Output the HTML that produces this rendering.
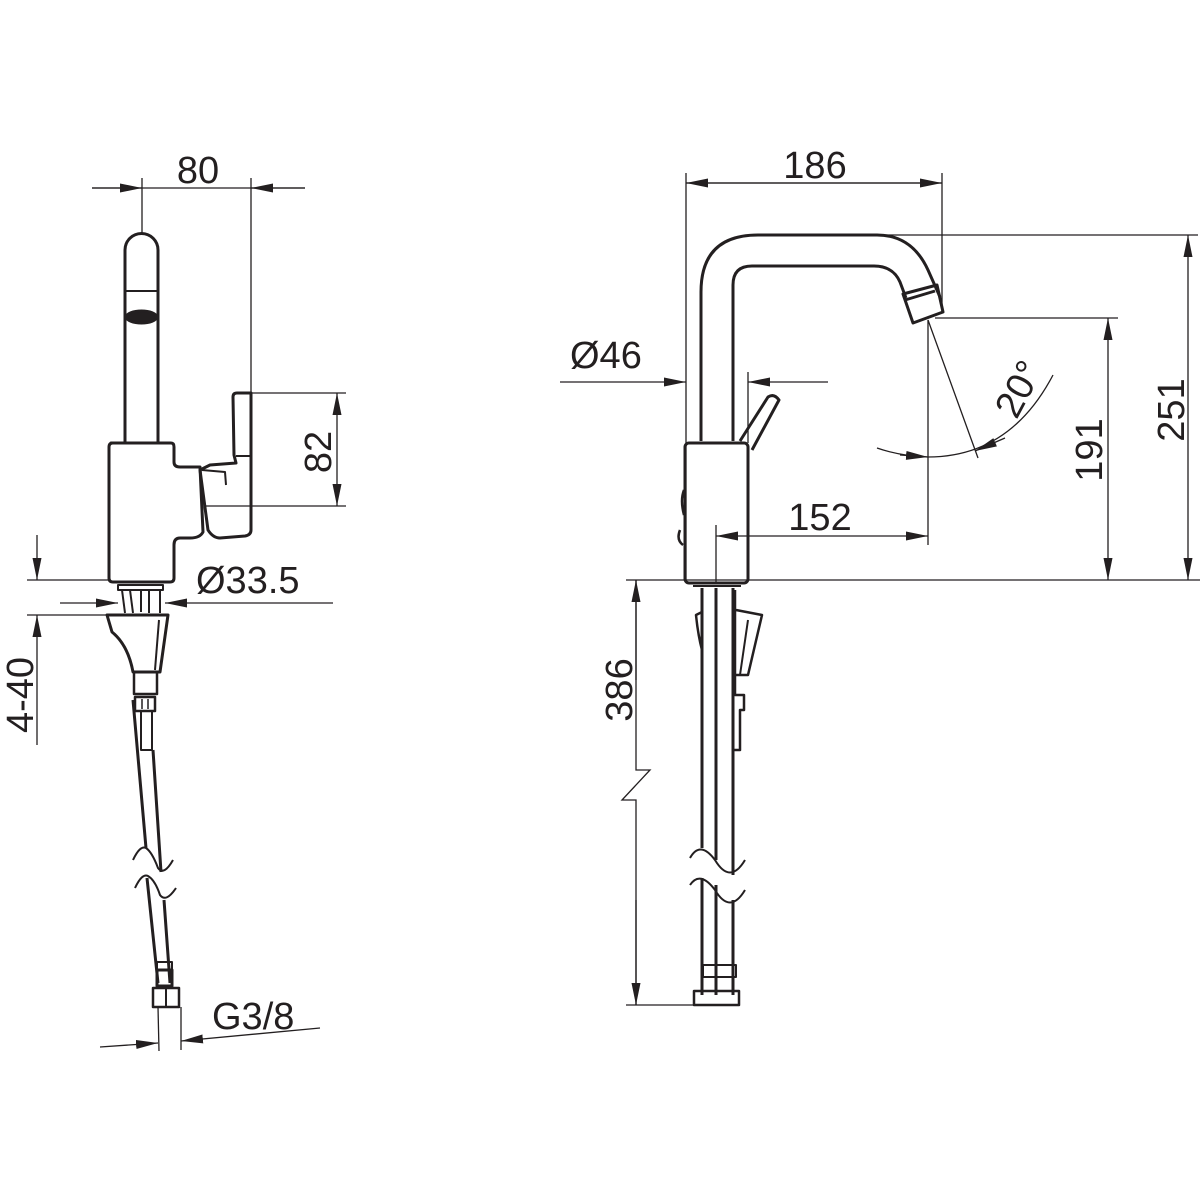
<!DOCTYPE html>
<html><head><style>body{margin:0;background:#fff}svg{display:block}text{font-family:"Liberation Sans",sans-serif;fill:#231f20}</style></head>
<body>
<svg width="1200" height="1200" viewBox="0 0 1200 1200" xmlns="http://www.w3.org/2000/svg">
<defs>
<marker id="a" viewBox="0 0 22 9" refX="22" refY="4.5" markerWidth="22" markerHeight="9" markerUnits="userSpaceOnUse" orient="auto"><path d="M0,0L22,4.5L0,9z" fill="#231f20"/></marker>
</defs>
<g stroke="#231f20" fill="none" stroke-width="1.3">
<!-- LEFT VIEW dims -->
<line x1="92" y1="188" x2="305" y2="188"/>
<line x1="92" y1="188" x2="142" y2="188" marker-end="url(#a)"/>
<line x1="305" y1="188" x2="251" y2="188" marker-end="url(#a)"/>
<line x1="142" y1="178" x2="142" y2="234"/>
<line x1="251" y1="178" x2="251" y2="395"/>
<line x1="252" y1="393" x2="346" y2="393"/>
<line x1="205" y1="506" x2="346" y2="506"/>
<line x1="337" y1="450" x2="337" y2="393" marker-end="url(#a)"/>
<line x1="337" y1="450" x2="337" y2="506" marker-end="url(#a)"/>
<line x1="60" y1="603" x2="118" y2="603" marker-end="url(#a)"/>
<line x1="333" y1="603" x2="165" y2="603" marker-end="url(#a)"/>
<line x1="27" y1="580" x2="110" y2="580"/>
<line x1="27" y1="615" x2="110" y2="615"/>
<line x1="37" y1="535" x2="37" y2="580" marker-end="url(#a)"/>
<line x1="37" y1="745" x2="37" y2="615" marker-end="url(#a)"/>
<line x1="100" y1="1047" x2="158" y2="1043" marker-end="url(#a)"/>
<line x1="320" y1="1028" x2="181" y2="1041" marker-end="url(#a)"/>
<line x1="158" y1="1007" x2="159" y2="1051"/><line x1="181" y1="1007" x2="181" y2="1050"/>
</g>
<g stroke="#231f20" fill="none" stroke-width="3" stroke-linejoin="round">
<!-- spout left -->
<path d="M125,442 V250 A16.5,16.5 0 0 1 158,250 V442"/>
<line x1="126" y1="291" x2="157" y2="291" stroke-width="2"/>
<ellipse cx="141.5" cy="317" rx="15" ry="6" fill="#231f20"/>
<!-- body -->
<path d="M111,443 H171 Q174,443 174,447 V462 Q174,467 180,467 H200 L203,532 Q200,538 190,538 H180 Q174,538 174,545 V578 Q174,582 170,582 H113 Q109,582 109,578 V447 Q109,443 113,443 Z"/>
<path d="M233,397 Q233,393 237,393 H251 V530 Q251,535 245,536 L220,538 Q213,538 208,530 L200,470 L210,465 L236,463 L234,455 Z"/>
<line x1="236" y1="456" x2="251" y2="456" stroke-width="2"/>
<path d="M202,470 L225,472 L226,485" stroke-width="2"/>
<!-- below body -->
<rect x="118" y="585" width="45" height="5" stroke-width="2"/>
<line x1="122" y1="590" x2="125" y2="613" stroke-width="2"/><line x1="130" y1="590" x2="133" y2="613" stroke-width="2"/>
<line x1="141" y1="590" x2="141" y2="612" stroke-width="2"/><line x1="149" y1="590" x2="149" y2="613" stroke-width="2"/><line x1="160" y1="590" x2="160" y2="613" stroke-width="2"/>
<path d="M107,615 H168 L160,672 H133 Q128,645 112,632 Z"/>
<line x1="159" y1="620" x2="155" y2="670" stroke-width="2"/>
<rect x="134" y="672" width="23" height="22" stroke-width="2.5"/>
<rect x="135" y="697" width="20" height="14" stroke-width="2.5"/>
<line x1="142" y1="699" x2="142" y2="709" stroke-width="1.5"/><line x1="148" y1="699" x2="148" y2="709" stroke-width="1.5"/>
<path d="M141,711 V750 H152 V711" stroke-width="2"/>
<!-- hose -->
<path d="M133,700 L146,848 M153,750 L161,872 M147,878 L158,983 M164,900 L170,983"/>
<path d="M133,860 Q140,845 146,848 Q152,852 158,868 Q164,876 173,860 M135,888 Q142,873 148,876 Q155,880 160,895 Q166,903 176,888" stroke-width="2"/>
<rect x="157" y="962" width="15" height="8" stroke-width="2"/>
<rect x="157" y="970" width="15" height="16" stroke-width="3"/>
<rect x="153" y="988" width="26" height="19" stroke-width="2.5"/>
<line x1="166" y1="988" x2="166" y2="1007" stroke-width="2"/>
</g>
<!-- RIGHT VIEW dims -->
<g stroke="#231f20" fill="none" stroke-width="1.3">
<line x1="686" y1="183" x2="942" y2="183"/>
<line x1="800" y1="183" x2="686" y2="183" marker-end="url(#a)"/>
<line x1="800" y1="183" x2="942" y2="183" marker-end="url(#a)"/>
<line x1="686" y1="173" x2="686" y2="580"/>
<line x1="942" y1="173" x2="942" y2="312"/>
<line x1="880" y1="235" x2="1198" y2="235"/>
<line x1="935" y1="318" x2="1118" y2="318"/>
<line x1="626" y1="580" x2="1200" y2="580"/>
<line x1="1188" y1="400" x2="1188" y2="235" marker-end="url(#a)"/>
<line x1="1188" y1="400" x2="1188" y2="580" marker-end="url(#a)"/>
<line x1="1108" y1="450" x2="1108" y2="318" marker-end="url(#a)"/>
<line x1="1108" y1="450" x2="1108" y2="580" marker-end="url(#a)"/>
<line x1="560" y1="382" x2="686" y2="382" marker-end="url(#a)"/>
<line x1="828" y1="382" x2="748" y2="382" marker-end="url(#a)"/>
<line x1="748" y1="372" x2="748" y2="443"/>
<line x1="716" y1="525" x2="716" y2="583"/>
<line x1="928" y1="320" x2="928" y2="545"/>
<line x1="820" y1="536" x2="716" y2="536" marker-end="url(#a)"/>
<line x1="820" y1="536" x2="928" y2="536" marker-end="url(#a)"/>
<line x1="928" y1="320" x2="978" y2="458"/>
<path d="M877,448 Q900,456 928,457 Q1010,457 1053,375"/>
<line x1="900" y1="455" x2="928" y2="457" marker-end="url(#a)"/>
<line x1="1005" y1="438" x2="975" y2="451" marker-end="url(#a)"/>
<path d="M636,580 V770 L650,770 L622,800 L636,800 V1005"/>
<line x1="636" y1="680" x2="636" y2="580" marker-end="url(#a)"/>
<line x1="636" y1="900" x2="636" y2="1005" marker-end="url(#a)"/>
<line x1="626" y1="1005" x2="700" y2="1005"/>
</g>
<g stroke="#231f20" fill="none" stroke-width="3" stroke-linejoin="round">
<path d="M701,441 V292 Q701,235 758,235 H877 Q912,235 928,270 L940,297"/>
<path d="M733,441 V285 Q733,266 752,266 H874 Q893,266 900,282 L906,298"/>
<path d="M903,294 L937,285 L943,312 L913,323 Z"/>
<line x1="905" y1="300" x2="935" y2="291" stroke-width="3"/>
<path d="M740,441 L768,397 Q774,393 779,400 L752,450"/>
<rect x="685" y="443" width="63" height="140" rx="4"/>
<path d="M684,490 Q680,500 684,515 M680,530 Q676,540 683,545" stroke-width="2.5"/>
<line x1="693" y1="586" x2="741" y2="586" stroke-width="2"/>
<line x1="702" y1="588" x2="702" y2="848"/><line x1="716" y1="588" x2="716" y2="860"/><line x1="733" y1="588" x2="733" y2="875"/>
<line x1="702" y1="878" x2="702" y2="995"/><line x1="716" y1="885" x2="716" y2="995"/><line x1="733" y1="900" x2="733" y2="995"/>
<path d="M690,858 Q700,840 715,860 Q730,885 745,860 M690,885 Q700,870 715,890 Q730,915 745,890" stroke-width="2"/>
<path d="M696,615 L702,612 V650 Q698,635 696,615 Z M736,610 L762,615 L748,675 H735 V590" stroke-width="2.5"/>
<path d="M748,620 L740,675" stroke-width="2"/>
<path d="M735,675 V695 H744 V710 H740 V750 H733" stroke-width="2.5"/>
<rect x="703" y="965" width="33" height="12" stroke-width="2"/>
<rect x="694" y="991" width="45" height="14" stroke-width="2.5"/>
</g>
<!-- text -->
<text x="198" y="183" font-size="38" text-anchor="middle">80</text>
<text transform="translate(331,452) rotate(-90)" font-size="38" text-anchor="middle">82</text>
<text x="196" y="593" font-size="38">Ø33.5</text>
<text transform="translate(33,695) rotate(-90)" font-size="38" text-anchor="middle">4-40</text>
<text x="212" y="1029" font-size="38">G3/8</text>
<text x="815" y="178" font-size="38" text-anchor="middle">186</text>
<text x="570" y="368" font-size="38">Ø46</text>
<text x="820" y="530" font-size="38" text-anchor="middle">152</text>
<text transform="translate(1030,395) rotate(-62)" font-size="38" text-anchor="middle">20°</text>
<text transform="translate(1102,450) rotate(-90)" font-size="38" text-anchor="middle">191</text>
<text transform="translate(1184,410) rotate(-90)" font-size="38" text-anchor="middle">251</text>
<text transform="translate(632,690) rotate(-90)" font-size="38" text-anchor="middle">386</text>
</svg>
</body></html>
